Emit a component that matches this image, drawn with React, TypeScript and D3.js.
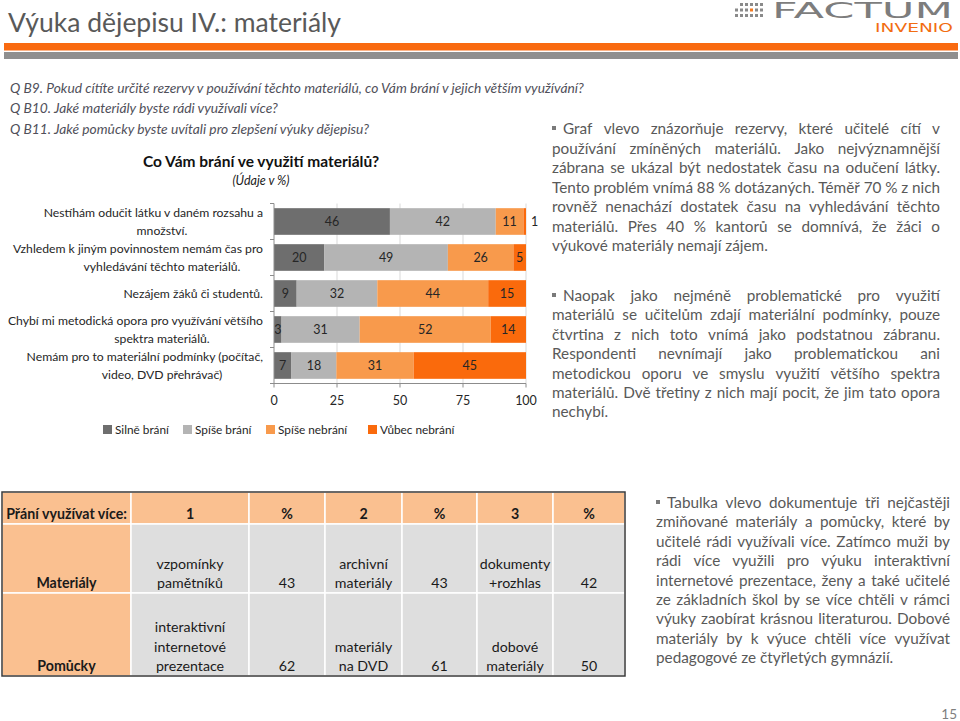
import React from 'react'
import * as d3 from 'd3'

// --- chart data -----------------------------------------------------------
const categories = [
  ['Nestíhám odučit látku v daném rozsahu a', 'množství.'],
  ['Vzhledem k jiným povinnostem nemám čas pro', 'vyhledávání těchto materiálů.'],
  ['Nezájem žáků či studentů.'],
  ['Chybí mi metodická opora pro využívání většího', 'spektra materiálů.'],
  ['Nemám pro to materiální podmínky (počítač,', 'video, DVD přehrávač)'],
]
const seriesNames = ['Silně brání', 'Spíše brání', 'Spíše nebrání', 'Vůbec nebrání']
const silneBrani = [46, 20, 9, 3, 7]
const spiseBrani = [42, 49, 32, 31, 18]
const spiseNebrani = [11, 26, 44, 52, 31]
const vubecNebrani = [1, 5, 15, 14, 45]
const xTicks = [0, 25, 50, 75, 100]
const seriesColors = ['#6e6e6e', '#b4b4b4', '#f89a4c', '#fa6a0c']

// --- table data -----------------------------------------------------------
const tableHeader = ['Přání využívat více:', '1', '%', '2', '%', '3', '%']
const rowLabels = ['Materiály', 'Pomůcky']
const materialyItems = [['vzpomínky', 'pamětníků'], ['archivní', 'materiály'], ['dokumenty', '+rozhlas']]
const materialyPct = [43, 43, 42]
const pomuckyItems = [['interaktivní', 'internetové', 'prezentace'], ['materiály', 'na DVD'], ['dobové', 'materiály']]
const pomuckyPct = [62, 61, 50]

// --- texts ----------------------------------------------------------------
const questions = [
  'Q B9. Pokud cítíte určité rezervy v používání těchto materiálů, co Vám brání v jejich větším využívání?',
  'Q B10. Jaké materiály byste rádi využívali více?',
  'Q B11. Jaké pomůcky byste uvítali pro zlepšení výuky dějepisu?',
]
const para1 = [
  'Graf vlevo znázorňuje rezervy, které učitelé cítí v',
  'používání zmíněných materiálů. Jako nejvýznamnější',
  'zábrana se ukázal být nedostatek času na odučení látky.',
  'Tento problém vnímá 88 % dotázaných. Téměř 70 % z nich',
  'rovněž nenachází dostatek času na vyhledávání těchto',
  'materiálů. Přes 40 % kantorů se domnívá, že žáci o',
  'výukové materiály nemají zájem.',
]
const para2 = [
  'Naopak jako nejméně problematické pro využití',
  'materiálů se učitelům zdají materiální podmínky, pouze',
  'čtvrtina z nich toto vnímá jako podstatnou zábranu.',
  'Respondenti nevnímají jako problematickou ani',
  'metodickou oporu ve smyslu využití většího spektra',
  'materiálů. Dvě třetiny z nich mají pocit, že jim tato opora',
  'nechybí.',
]
const para3 = [
  'Tabulka vlevo dokumentuje tři nejčastěji',
  'zmiňované materiály a pomůcky, které by',
  'učitelé rádi využívali více. Zatímco muži by',
  'rádi více využili pro výuku interaktivní',
  'internetové prezentace, ženy a také učitelé',
  'ze základních škol by se více chtěli v rámci',
  'výuky zaobírat krásnou literaturou. Dobové',
  'materiály by k výuce chtěli více využívat',
  'pedagogové ze čtyřletých gymnázií.',
]

const FONT = 'Lato, "Open Sans", sans-serif'
const ctx = document.createElement('canvas').getContext('2d')!
const measure = (s: string, size: number) => {
  ctx.font = `${size}px Lato`
  return ctx.measureText(s).width
}

// justified paragraph, the last line is left aligned
function Para({ lines, x, x2, y0, lh, size }: any) {
  return (
    <g fontFamily={FONT} fontSize={size} fill="#595959">
      <rect x={x} y={y0 - 8} width={4} height={4} fill="#7a7a7a" />
      {lines.map((line: string, i: number) => {
        const sx = i === 0 ? x + 11 : x
        const y = y0 + i * lh
        if (i === lines.length - 1) {
          return <text key={i} x={sx} y={y}>{line}</text>
        }
        const words = line.split(' ')
        const ws = words.map((w) => measure(w, size))
        const gap = (x2 - sx - d3.sum(ws)) / (words.length - 1)
        let cx = sx
        return (
          <text key={i} y={y}>
            {words.map((w, j) => {
              const px = cx
              cx += ws[j] + gap
              return <tspan key={j} x={px}>{w}</tspan>
            })}
          </text>
        )
      })}
    </g>
  )
}

function BarChart() {
  const rows = categories.map((_, i) => ({
    [seriesNames[0]]: silneBrani[i],
    [seriesNames[1]]: spiseBrani[i],
    [seriesNames[2]]: spiseNebrani[i],
    [seriesNames[3]]: vubecNebrani[i],
  }))
  const stack = d3.stack<any>().keys(seriesNames).offset(d3.stackOffsetExpand)(rows)
  const x = d3.scaleLinear().domain([0, 1]).range([274, 526])
  const y = d3
    .scaleBand<number>()
    .domain(d3.range(categories.length))
    .range([203.5, 383.5])
    .paddingInner(0.26)
    .paddingOuter(0.13)
  const step = y.step()
  const top = y.range()[0]
  const bottom = y.range()[1]
  const color = d3.scaleOrdinal<string, string>().domain(seriesNames).range(seriesColors)

  return (
    <g fontFamily={FONT}>
      {/* grid */}
      {xTicks.slice(1).map((t) => (
        <line key={t} x1={x(t / 100)} x2={x(t / 100)} y1={top} y2={bottom} stroke="#d9d9d9" />
      ))}
      {/* bars */}
      {stack.map((s) => (
        <g key={s.key} fill={color(s.key)}>
          {s.map((d, i) => (
            <rect key={i} x={x(d[0])} y={y(i)} width={x(d[1]) - x(d[0])} height={y.bandwidth()} />
          ))}
        </g>
      ))}
      {/* value labels */}
      {stack.map((s) =>
        s.map((d, i) => {
          const v = (d.data as any)[s.key]
          const small = v < 2
          const cx = small ? x(d[1]) + 5 : (x(d[0]) + x(d[1])) / 2
          return (
            <text
              key={s.key + i}
              x={cx}
              y={y(i)! + y.bandwidth() / 2 + 4.5}
              textAnchor={small ? 'start' : 'middle'}
              fontSize={12.5}
              fill="#262626"
            >
              {v}
            </text>
          )
        })
      )}
      {/* axes */}
      <line x1={x(0)} x2={x(0)} y1={top} y2={bottom} stroke="#8c8c8c" />
      {d3.range(categories.length + 1).map((i) => (
        <line key={i} x1={x(0) - 4} x2={x(0)} y1={top + i * step} y2={top + i * step} stroke="#8c8c8c" />
      ))}
      <line x1={x(0)} x2={x(1)} y1={bottom} y2={bottom} stroke="#8c8c8c" />
      {xTicks.map((t) => (
        <g key={t}>
          <line x1={x(t / 100)} x2={x(t / 100)} y1={bottom} y2={bottom + 4} stroke="#8c8c8c" />
          <text x={x(t / 100)} y={bottom + 21} textAnchor="middle" fontSize={12.5} fill="#262626">
            {t}
          </text>
        </g>
      ))}
      {/* category labels */}
      {categories.map((lines, i) => {
        const cy = y(i)! + y.bandwidth() / 2
        if (lines.length === 1) {
          return (
            <text key={i} x={263} y={cy + 4} textAnchor="end" fontSize={12.2} fill="#262626">
              {lines[0]}
            </text>
          )
        }
        return (
          <g key={i} fontSize={12.2} fill="#262626">
            <text x={263} y={cy - 5} textAnchor="end">{lines[0]}</text>
            <text x={162} y={cy + 13} textAnchor="middle">{lines[1]}</text>
          </g>
        )
      })}
      {/* legend */}
      {seriesNames.map((n, i) => {
        const lx = [103, 183, 266, 368][i]
        return (
          <g key={n}>
            <rect x={lx} y={425} width={9} height={9} fill={color(n)} />
            <text x={lx + 12} y={434} fontSize={11.8} fill="#262626">{n}</text>
          </g>
        )
      })}
    </g>
  )
}

function Table() {
  const colEdges = [2, 131, 249, 325, 402, 477, 553, 625]
  const rowEdges = [492, 524, 593, 676]
  const orange = '#fac090'
  const gray = '#dedede'
  const lh = 19.5
  const cellLines: (string[] | string)[][] = [
    tableHeader.map((h) => [h]),
    [[rowLabels[0]], ...materialyItems.flatMap((it, k) => [it, [String(materialyPct[k])]])],
    [[rowLabels[1]], ...pomuckyItems.flatMap((it, k) => [it, [String(pomuckyPct[k])]])],
  ]
  return (
    <g fontFamily={FONT} fontSize={14.2} fill="#1a1a1a">
      {cellLines.map((row, r) =>
        row.map((_, c) => (
          <rect
            key={`${r}-${c}`}
            x={colEdges[c]}
            y={rowEdges[r]}
            width={colEdges[c + 1] - colEdges[c]}
            height={rowEdges[r + 1] - rowEdges[r]}
            fill={r === 0 || c === 0 ? orange : gray}
            stroke="#ffffff"
            strokeWidth={1.5}
          />
        ))
      )}
      <rect
        x={colEdges[0]}
        y={rowEdges[0]}
        width={colEdges[colEdges.length - 1] - colEdges[0]}
        height={rowEdges[rowEdges.length - 1] - rowEdges[0]}
        fill="none"
        stroke="#3a3a3a"
        strokeWidth={1.5}
      />
      {cellLines.map((row, r) =>
        row.map((cell, c) => {
          const lines = cell as string[]
          const cx = (colEdges[c] + colEdges[c + 1]) / 2
          const base = rowEdges[r + 1] - 5
          const bold = r === 0 || c === 0
          return (
            <text key={`t${r}-${c}`} textAnchor="middle" fontWeight={bold ? 700 : 400}>
              {lines.map((l, k) => (
                <tspan key={k} x={cx} y={base - (lines.length - 1 - k) * lh}>
                  {l}
                </tspan>
              ))}
            </text>
          )
        })
      )}
    </g>
  )
}

function Logo() {
  const dots: [number, number, boolean][] = []
  for (let r = 0; r < 3; r++) {
    for (let c = 0; c < 6; c++) {
      if (r === 0 && c < 1) continue
      dots.push([735 + c * 5, 3 + r * 5.5, r === 1 && c === 3])
    }
  }
  return (
    <g>
      {dots.map(([dx, dy, o], i) => (
        <rect key={i} x={dx} y={dy} width={3} height={3} fill={o ? '#f47a20' : '#8a8a8a'} />
      ))}
      <text
        x={772}
        y={18}
        fontFamily='"DejaVu Sans", sans-serif'
        fontSize={21}
        fill="#7d7d7d"
        textLength={181}
        lengthAdjust="spacingAndGlyphs"
      >
        FACTUM
      </text>
      <text
        x={875}
        y={32}
        fontFamily='"DejaVu Sans", sans-serif'
        fontSize={12}
        fill="#f26d12"
        textLength={78}
        lengthAdjust="spacingAndGlyphs"
      >
        INVENIO
      </text>
    </g>
  )
}

export default function App() {
  return (
    <svg
      width={960}
      height={721}
      style={{ position: 'absolute', left: 0, top: 0, background: '#fff' }}
    >
      <rect width={960} height={721} fill="#fff" />
      <text x={8} y={32} fontFamily={FONT} fontSize={26.5} fill="#595959">
        Výuka dějepisu IV.: materiály
      </text>
      <Logo />
      <rect x={4} y={43} width={954} height={7.5} fill="#f96a10" />
      <rect x={4} y={52} width={954} height={7} fill="#8f8f8f" />

      <g fontFamily={FONT} fontSize={13.8} fontStyle="italic" fill="#50505a">
        {questions.map((q, i) => (
          <text key={i} x={10} y={92.5 + i * 20.5}>{q}</text>
        ))}
      </g>

      <text x={261} y={167} textAnchor="middle" fontFamily={FONT} fontWeight={700} fontSize={15.5} fill="#111">
        Co Vám brání ve využití materiálů?
      </text>
      <text x={261} y={185} textAnchor="middle" fontFamily={FONT} fontStyle="italic" fontSize={12.5} fill="#222">
        (Údaje v %)
      </text>

      <BarChart />
      <Table />

      <Para lines={para1} x={552} x2={940} y0={134} lh={19.5} size={15.3} />
      <Para lines={para2} x={552} x2={940} y0={301} lh={19.4} size={15.3} />
      <Para lines={para3} x={656} x2={950} y0={508} lh={19.4} size={15.3} />

      <text x={957} y={719} textAnchor="end" fontFamily={FONT} fontSize={13.5} fill="#7f7f7f">
        15
      </text>
    </svg>
  )
}
